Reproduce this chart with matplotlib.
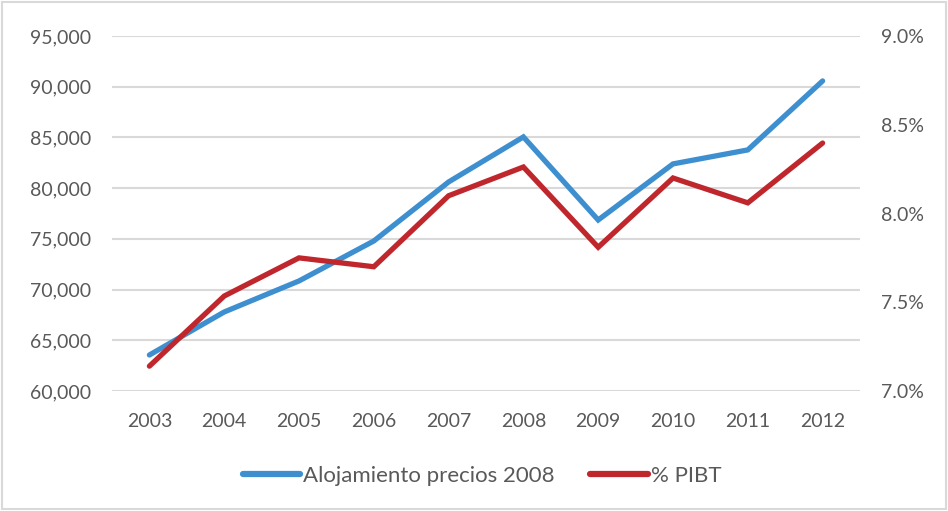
import matplotlib
matplotlib.use("Agg")
import matplotlib.pyplot as plt
from matplotlib.ticker import FuncFormatter, FixedLocator
from matplotlib.patches import Rectangle

years = ["2003", "2004", "2005", "2006", "2007", "2008", "2009", "2010", "2011", "2012"]
alojamiento = [63550, 67790, 70850, 74790, 80610, 85050, 76860, 82390, 83770, 90570]
pibt = [7.14, 7.535, 7.75, 7.70, 8.10, 8.262, 7.81, 8.20, 8.06, 8.397]
left_ticks = [60000, 65000, 70000, 75000, 80000, 85000, 90000, 95000]
right_ticks = [7.0, 7.5, 8.0, 8.5, 9.0]

plt.rcParams['font.family'] = ['Lato', 'DejaVu Sans']
txt = '#595959'
blue = '#3D8FD0'
red = '#C0272D'
grid = '#D9D9D9'

fig = plt.figure(figsize=(9.48, 5.11), dpi=100)
ax = fig.add_axes([112/948, 1-391/511, 748/948, 355/511])
ax2 = ax.twinx()

x = list(range(len(years)))
l1, = ax.plot(x, alojamiento, color=blue, lw=3.8, solid_capstyle='round', solid_joinstyle='miter', zorder=3, label='Alojamiento precios 2008')
l2, = ax2.plot(x, pibt, color=red, lw=3.8, solid_capstyle='round', solid_joinstyle='miter', zorder=3, label='% PIBT')

ax.set_ylim(60000, 95000)
ax2.set_ylim(7.0, 9.0)
ax.set_xlim(-0.5, len(years) - 0.5)
ax.set_xticks(x)
ax.set_xticklabels(years)
ax.yaxis.set_major_locator(FixedLocator(left_ticks))
ax2.yaxis.set_major_locator(FixedLocator(right_ticks))
ax.yaxis.set_major_formatter(FuncFormatter(lambda v, p: f"{v:,.0f}"))
ax2.yaxis.set_major_formatter(FuncFormatter(lambda v, p: f"{v:.1f}%"))

ax.grid(axis='y', color=grid, lw=1.5, zorder=0)
ax.set_axisbelow(True)
for a in (ax, ax2):
    for s in a.spines.values():
        s.set_visible(False)
    a.tick_params(length=0, labelsize=14, labelcolor=txt)
ax.tick_params(axis='y', pad=15)
ax2.tick_params(axis='y', pad=15)
ax.tick_params(axis='x', pad=16)

leg = fig.legend(handles=[l1, l2], loc='center', bbox_to_anchor=(482/948, 1-476/511),
                 ncol=2, frameon=False, fontsize=16, handlelength=2.6, handletextpad=0.12,
                 columnspacing=1.6, labelcolor=txt)
for h in leg.legend_handles:
    h.set_linewidth(4.5)

fig.patches.append(Rectangle((2/948, 2/511), 944/948, 507/511, transform=fig.transFigure,
                             fill=False, edgecolor='#D9D9D9', lw=1.5))

fig.savefig('out.png', dpi=100, facecolor='white')
